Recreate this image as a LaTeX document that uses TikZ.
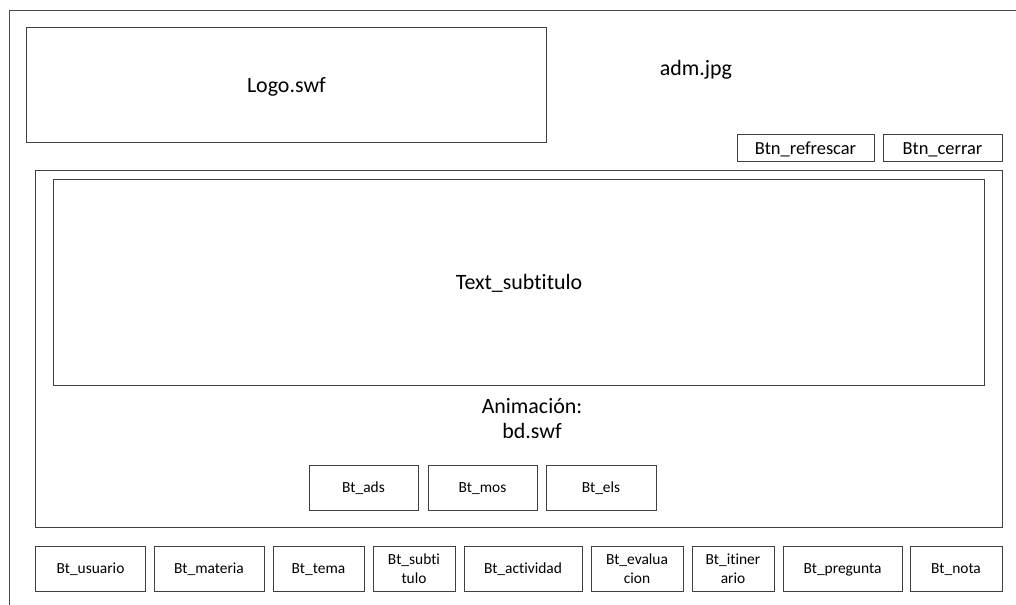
\documentclass[tikz,border=0pt]{standalone}
\usepackage{fontspec}
\setmainfont[Ligatures=NoCommon]{Carlito}
\usetikzlibrary{positioning}

\tikzset{
  frame/.style={draw=black!70, line width=1.1bp},
  box/.style={draw=black!75, line width=1bp, rectangle, inner sep=0pt, align=center},
  btn/.style={box, minimum height=45bp, font=\fontsize{15.5}{19}\selectfont},
  oneline/.style={text height=10bp, text depth=0pt},
  btnsm/.style={box, minimum height=27bp, text height=12bp, text depth=0pt, font=\fontsize{18.5}{22}\selectfont},
  big/.style={font=\fontsize{22}{26}\selectfont},
  bigbox/.style={box, big, text height=14bp, text depth=0pt}
}

\begin{document}
\begin{tikzpicture}[x=1bp, y=-1bp]
\useasboundingbox (0,0) rectangle (1016,605);

% outer frame (open at right and bottom)
\draw[frame] (9.5,605) -- (9.5,10.5) -- (1016,10.5);

% header
\node[bigbox, minimum width=519bp, minimum height=115bp] (logo) at (286.5,85.5) {Logo.swf};
\node[big, anchor=base] (adm) at (696,76) {adm.jpg};
\node[btnsm, minimum width=137bp] (refrescar) at (805.5,148.5) {Btn\_refrescar};
\node[btnsm, minimum width=119bp] (cerrar) at (942.5,148.5) {Btn\_cerrar};

% animation area
\node[box, minimum width=966bp, minimum height=357bp] (anim) at (519,349) {};
\node[bigbox, minimum width=930bp, minimum height=205bp] (subtitulo) at (519,282.5) {Text\_subtitulo};
\node[big, anchor=base] (animtxt) at (532,413) {Animación:};
\node[big, anchor=base] (bd) at (532,438) {bd.swf};

\node[btn, oneline, minimum width=109bp] (ads) at (363.5,487.5) {Bt\_ads};
\node[btn, oneline, minimum width=109bp] (mos) at (482.5,487.5) {Bt\_mos};
\node[btn, oneline, minimum width=110bp] (els) at (601,487.5) {Bt\_els};

% bottom menu
\node[btn, oneline, minimum width=109bp] (usuario) at (90.5,568.5) {Bt\_usuario};
\node[btn, oneline, minimum width=110bp] (materia) at (209,568.5) {Bt\_materia};
\node[btn, oneline, minimum width=91bp] (tema) at (318.5,568.5) {Bt\_tema};
\node[btn, minimum width=82bp] (subti) at (414,568.5) {Bt\_subti\\tulo};
\node[btn, oneline, minimum width=118bp] (actividad) at (523,568.5) {Bt\_actividad};
\node[btn, minimum width=92bp] (evalua) at (637,568.5) {Bt\_evalua\\cion};
\node[btn, minimum width=82bp] (itiner) at (733,568.5) {Bt\_itiner\\ario};
\node[btn, oneline, minimum width=119bp] (pregunta) at (842.5,568.5) {Bt\_pregunta};
\node[btn, oneline, minimum width=92bp] (nota) at (956,568.5) {Bt\_nota};

\end{tikzpicture}
\end{document}
